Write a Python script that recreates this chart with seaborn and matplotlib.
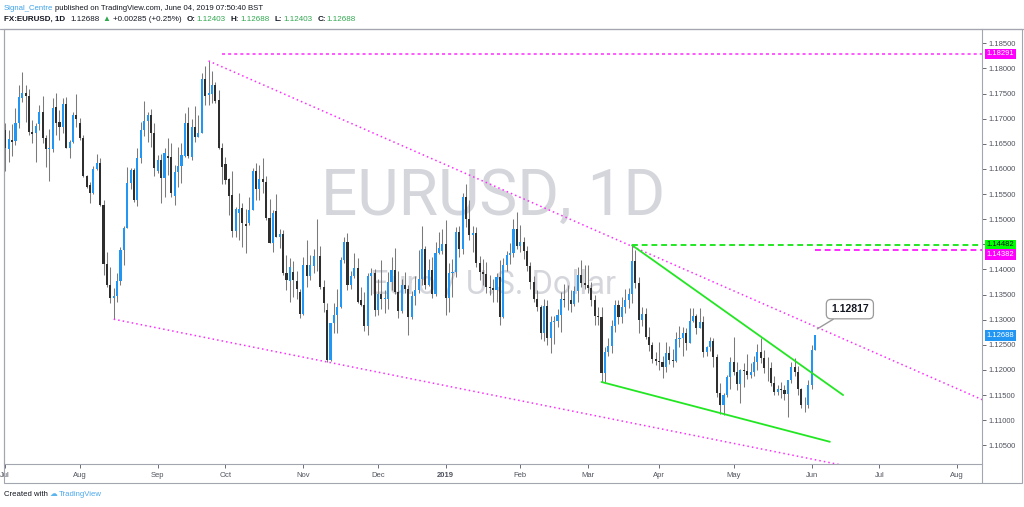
import numpy as np
import pandas as pd
import matplotlib
matplotlib.use('Agg')
import matplotlib.pyplot as plt
import seaborn as sns
from matplotlib.lines import Line2D
from matplotlib.patches import Rectangle

# --- DATA: FX:EURUSD daily candles, 2 Jul 2018 .. 4 Jun 2019 ---
opens = [
    1.1677, 1.1639, 1.1657, 1.1655, 1.1691, 1.1742, 1.1752, 1.1746, 1.1674, 1.1671,
    1.1689, 1.1713, 1.1662, 1.1639, 1.1640, 1.1724, 1.1694, 1.1684, 1.1729, 1.1642,
    1.1653, 1.1707, 1.1692, 1.1661, 1.1585, 1.1569, 1.1553, 1.1600, 1.1611, 1.1528,
    1.1410, 1.1370, 1.1344, 1.1348, 1.1376, 1.1439, 1.1483, 1.1573, 1.1598, 1.1538,
    1.1622, 1.1677, 1.1695, 1.1707, 1.1671, 1.1595, 1.1618, 1.1581, 1.1626, 1.1623,
    1.1546, 1.1593, 1.1606, 1.1626, 1.1692, 1.1623, 1.1683, 1.1663, 1.1672, 1.1778,
    1.1748, 1.1749, 1.1768, 1.1737, 1.1641, 1.1610, 1.1579, 1.1548, 1.1477, 1.1513,
    1.1522, 1.1490, 1.1492, 1.1518, 1.1595, 1.1560, 1.1580, 1.1575, 1.1502, 1.1452,
    1.1517, 1.1465, 1.1470, 1.1392, 1.1376, 1.1394, 1.1376, 1.1355, 1.1311, 1.1409,
    1.1387, 1.1407, 1.1426, 1.1427, 1.1366, 1.1320, 1.1220, 1.1293, 1.1310, 1.1326,
    1.1419, 1.1455, 1.1370, 1.1386, 1.1402, 1.1339, 1.1329, 1.1288, 1.1386, 1.1392,
    1.1319, 1.1352, 1.1342, 1.1342, 1.1375, 1.1398, 1.1356, 1.1318, 1.1370, 1.1362,
    1.1305, 1.1347, 1.1359, 1.1380, 1.1441, 1.1370, 1.1398, 1.1352, 1.1432, 1.1437,
    1.1450, 1.1344, 1.1392, 1.1394, 1.1475, 1.1441, 1.1544, 1.1501, 1.1469, 1.1472,
    1.1412, 1.1395, 1.1390, 1.1365, 1.1363, 1.1359, 1.1385, 1.1306, 1.1409, 1.1429,
    1.1432, 1.1480, 1.1446, 1.1455, 1.1437, 1.1407, 1.1375, 1.1341, 1.1325, 1.1274,
    1.1327, 1.1264, 1.1295, 1.1297, 1.1309, 1.1342, 1.1340, 1.1339, 1.1332, 1.1358,
    1.1388, 1.1373, 1.1370, 1.1364, 1.1339, 1.1308, 1.1306, 1.1194, 1.1235, 1.1247,
    1.1287, 1.1329, 1.1306, 1.1326, 1.1339, 1.1352, 1.1416, 1.1373, 1.1300, 1.1312,
    1.1265, 1.1249, 1.1222, 1.1217, 1.1215, 1.1205, 1.1233, 1.1219, 1.1218, 1.1262,
    1.1263, 1.1274, 1.1253, 1.1298, 1.1307, 1.1284, 1.1296, 1.1236, 1.1246, 1.1258,
    1.1226, 1.1154, 1.1130, 1.1150, 1.1185, 1.1216, 1.1195, 1.1172, 1.1200, 1.1198,
    1.1190, 1.1196, 1.1215, 1.1235, 1.1224, 1.1204, 1.1203, 1.1174, 1.1157, 1.1162,
    1.1160, 1.1152, 1.1180, 1.1205, 1.1195, 1.1162, 1.1131, 1.1130, 1.1170, 1.12403,
]
highs = [
    1.1691, 1.1677, 1.1690, 1.1721, 1.1768, 1.1792, 1.1768, 1.1760, 1.1697, 1.1691,
    1.1727, 1.1746, 1.1667, 1.1679, 1.1741, 1.1752, 1.1717, 1.1742, 1.1744, 1.1658,
    1.1713, 1.1749, 1.1701, 1.1667, 1.1588, 1.1575, 1.1605, 1.1629, 1.1621, 1.1538,
    1.1434, 1.1405, 1.1364, 1.1392, 1.1445, 1.1487, 1.1603, 1.1601, 1.1601, 1.1641,
    1.1694, 1.1735, 1.1714, 1.1719, 1.1692, 1.1628, 1.1630, 1.1641, 1.1661, 1.1651,
    1.1608, 1.1644, 1.1651, 1.1711, 1.1723, 1.1699, 1.1725, 1.1707, 1.1790, 1.1804,
    1.1815, 1.1794, 1.1774, 1.1758, 1.1652, 1.1624, 1.1581, 1.1595, 1.1525, 1.1552,
    1.1532, 1.1520, 1.1545, 1.1601, 1.1612, 1.1608, 1.1621, 1.1585, 1.1540, 1.1518,
    1.1551, 1.1480, 1.1479, 1.1429, 1.1422, 1.1416, 1.1396, 1.1362, 1.1425, 1.1459,
    1.1429, 1.1440, 1.1500, 1.1447, 1.1379, 1.1333, 1.1294, 1.1333, 1.1362, 1.1424,
    1.1465, 1.1473, 1.1396, 1.1432, 1.1422, 1.1366, 1.1356, 1.1392, 1.1402, 1.1400,
    1.1380, 1.1419, 1.1360, 1.1395, 1.1424, 1.1442, 1.1396, 1.1381, 1.1394, 1.1369,
    1.1358, 1.1387, 1.1438, 1.1486, 1.1446, 1.1420, 1.1425, 1.1455, 1.1475, 1.1480,
    1.1498, 1.1413, 1.1420, 1.1484, 1.1486, 1.1553, 1.1570, 1.1538, 1.1486, 1.1484,
    1.1427, 1.1420, 1.1414, 1.1389, 1.1381, 1.1393, 1.1418, 1.1422, 1.1437, 1.1452,
    1.1500, 1.1514, 1.1489, 1.1464, 1.1447, 1.1414, 1.1386, 1.1360, 1.1330, 1.1341,
    1.1340, 1.1308, 1.1307, 1.1322, 1.1356, 1.1372, 1.1369, 1.1360, 1.1368, 1.1404,
    1.1419, 1.1408, 1.1408, 1.1375, 1.1350, 1.1325, 1.1325, 1.1245, 1.1264, 1.1300,
    1.1339, 1.1339, 1.1345, 1.1362, 1.1363, 1.14482, 1.1439, 1.1385, 1.1325, 1.1324,
    1.1286, 1.1256, 1.1236, 1.1256, 1.1228, 1.1255, 1.1247, 1.1241, 1.1276, 1.1288,
    1.1285, 1.1283, 1.1324, 1.1324, 1.1312, 1.1323, 1.1308, 1.1248, 1.1266, 1.1264,
    1.1231, 1.1174, 1.1154, 1.1190, 1.1226, 1.1265, 1.1215, 1.1201, 1.1214, 1.1231,
    1.1214, 1.1228, 1.1251, 1.1264, 1.1240, 1.1225, 1.1215, 1.1187, 1.1171, 1.1175,
    1.1171, 1.1180, 1.1215, 1.1224, 1.1208, 1.1165, 1.1146, 1.1180, 1.1250, 1.12688,
]
lows = [
    1.1595, 1.1614, 1.1625, 1.1648, 1.1682, 1.1734, 1.1694, 1.1667, 1.1651, 1.1614,
    1.1677, 1.1651, 1.1603, 1.1576, 1.1634, 1.1667, 1.1658, 1.1671, 1.1642, 1.1622,
    1.1651, 1.1684, 1.1658, 1.1583, 1.1563, 1.1532, 1.1551, 1.1598, 1.1527, 1.1389,
    1.1366, 1.1333, 1.1301, 1.1336, 1.1369, 1.1409, 1.1482, 1.1560, 1.1535, 1.1527,
    1.1611, 1.1665, 1.1654, 1.1644, 1.1585, 1.1591, 1.1532, 1.1545, 1.1588, 1.1545,
    1.1528, 1.1565, 1.1573, 1.1624, 1.1621, 1.1618, 1.1654, 1.1663, 1.1671, 1.1727,
    1.1727, 1.1732, 1.1731, 1.1639, 1.1571, 1.1571, 1.1508, 1.1465, 1.1465, 1.1459,
    1.1445, 1.1432, 1.1488, 1.1518, 1.1538, 1.1538, 1.1553, 1.1498, 1.1452, 1.1435,
    1.1465, 1.1442, 1.1389, 1.1359, 1.1336, 1.1346, 1.1341, 1.1303, 1.1309, 1.1366,
    1.1379, 1.1392, 1.1396, 1.1362, 1.1316, 1.1216, 1.1217, 1.1273, 1.1273, 1.1323,
    1.1412, 1.1360, 1.1362, 1.1382, 1.1333, 1.1327, 1.1278, 1.1270, 1.1349, 1.1307,
    1.1310, 1.1321, 1.1314, 1.1321, 1.1360, 1.1352, 1.1304, 1.1313, 1.1354, 1.1269,
    1.1302, 1.1330, 1.1354, 1.1370, 1.1362, 1.1367, 1.1343, 1.1347, 1.1430, 1.1430,
    1.1309, 1.1315, 1.1345, 1.1385, 1.1425, 1.1431, 1.1484, 1.1458, 1.1435, 1.1405,
    1.1378, 1.1370, 1.1353, 1.1349, 1.1336, 1.1336, 1.1289, 1.1304, 1.1397, 1.1410,
    1.1424, 1.1440, 1.1434, 1.1421, 1.1397, 1.1361, 1.1335, 1.1318, 1.1262, 1.1257,
    1.1249, 1.1234, 1.1251, 1.1285, 1.1276, 1.1325, 1.1319, 1.1316, 1.1328, 1.1336,
    1.1365, 1.1362, 1.1353, 1.1327, 1.1290, 1.1289, 1.1176, 1.1176, 1.1227, 1.1234,
    1.1276, 1.1291, 1.1293, 1.1314, 1.1324, 1.1334, 1.1363, 1.1274, 1.1287, 1.1262,
    1.1238, 1.1213, 1.1210, 1.1200, 1.1184, 1.1196, 1.1211, 1.1206, 1.1215, 1.1246,
    1.1228, 1.1240, 1.1253, 1.1295, 1.1271, 1.1283, 1.1226, 1.1228, 1.1238, 1.1205,
    1.1147, 1.1112, 1.1111, 1.1146, 1.1162, 1.1190, 1.1161, 1.1135, 1.1166, 1.1181,
    1.1183, 1.1187, 1.1200, 1.1213, 1.1194, 1.1178, 1.1168, 1.1150, 1.1150, 1.1145,
    1.1141, 1.1107, 1.1174, 1.1188, 1.1150, 1.1124, 1.1116, 1.1124, 1.1162, 1.12403,
]
closes = [
    1.1641, 1.1659, 1.1654, 1.1691, 1.1743, 1.1752, 1.1746, 1.1673, 1.1669, 1.1686,
    1.1713, 1.1662, 1.1639, 1.1642, 1.1721, 1.1691, 1.1684, 1.1729, 1.1642, 1.1653,
    1.1707, 1.1699, 1.1661, 1.1585, 1.1565, 1.1553, 1.1600, 1.1611, 1.1528, 1.1410,
    1.1370, 1.1344, 1.1348, 1.1376, 1.1439, 1.1483, 1.1573, 1.1598, 1.1538, 1.1622,
    1.1677, 1.1695, 1.1707, 1.1671, 1.1601, 1.1618, 1.1581, 1.1631, 1.1621, 1.1552,
    1.1593, 1.1606, 1.1627, 1.1691, 1.1626, 1.1683, 1.1663, 1.1672, 1.1778, 1.1745,
    1.1751, 1.1768, 1.1736, 1.1641, 1.1603, 1.1578, 1.1546, 1.1477, 1.1520, 1.1520,
    1.1492, 1.1486, 1.1518, 1.1595, 1.1560, 1.1580, 1.1575, 1.1502, 1.1453, 1.1513,
    1.1465, 1.1471, 1.1392, 1.1379, 1.1404, 1.1379, 1.1362, 1.1311, 1.1409, 1.1387,
    1.1409, 1.1427, 1.1427, 1.1366, 1.1334, 1.1220, 1.1293, 1.1310, 1.1326, 1.1419,
    1.1455, 1.1370, 1.1386, 1.1402, 1.1336, 1.1329, 1.1288, 1.1386, 1.1392, 1.1319,
    1.1352, 1.1342, 1.1342, 1.1375, 1.1398, 1.1356, 1.1318, 1.1370, 1.1362, 1.1305,
    1.1347, 1.1359, 1.1380, 1.1441, 1.1370, 1.1398, 1.1352, 1.1432, 1.1443, 1.1450,
    1.1344, 1.1392, 1.1394, 1.1475, 1.1441, 1.1544, 1.1501, 1.1469, 1.1472, 1.1412,
    1.1395, 1.1390, 1.1365, 1.1363, 1.1359, 1.1385, 1.1306, 1.1409, 1.1429, 1.1432,
    1.1480, 1.1446, 1.1455, 1.1437, 1.1407, 1.1375, 1.1341, 1.1325, 1.1274, 1.1327,
    1.1264, 1.1295, 1.1297, 1.1309, 1.1342, 1.1340, 1.1339, 1.1332, 1.1358, 1.1388,
    1.1373, 1.1370, 1.1364, 1.1339, 1.1308, 1.1306, 1.1194, 1.1235, 1.1247, 1.1287,
    1.1329, 1.1306, 1.1326, 1.1339, 1.1352, 1.1416, 1.1373, 1.1300, 1.1312, 1.1265,
    1.1249, 1.1222, 1.1217, 1.1215, 1.1205, 1.1233, 1.1219, 1.1218, 1.1262, 1.1263,
    1.1274, 1.1253, 1.1298, 1.1307, 1.1284, 1.1296, 1.1236, 1.1246, 1.1258, 1.1226,
    1.1154, 1.1130, 1.1150, 1.1185, 1.1216, 1.1195, 1.1172, 1.1200, 1.1198, 1.1190,
    1.1196, 1.1215, 1.1235, 1.1224, 1.1204, 1.1203, 1.1174, 1.1157, 1.1162, 1.1160,
    1.1152, 1.1180, 1.1205, 1.1195, 1.1162, 1.1131, 1.1130, 1.1170, 1.1240, 1.12688,
]

HOLIDAYS = ['2018-12-25', '2019-01-01']
month_labels = ['Jul', 'Aug', 'Sep', 'Oct', 'Nov', 'Dec', '2019',
                'Feb', 'Mar', 'Apr', 'May', 'Jun', 'Jul', 'Aug']
price_ticks = [1.105, 1.110, 1.115, 1.120, 1.125, 1.130, 1.135, 1.140, 1.145,
               1.150, 1.155, 1.160, 1.165, 1.170, 1.175, 1.180, 1.185]

# drawings (bar index, price)
upper_channel = [(60, 1.1815), (290, 1.1136)]
lower_channel = [(32, 1.1301), (260, 1.0993)]
wedge_top = [(185, 1.14482), (247.3, 1.1150)]
wedge_bottom = [(176, 1.1176), (243.4, 1.1057)]
level_top = 1.18291       # from bar 64
level_green = 1.14482     # from bar 185
level_magenta = 1.14382   # from bar 239
last_price = 1.12688
callout_price = 1.12817

# --- STYLE ---
W, H = 1024, 507
UP = '#2196f3'
DOWN = '#2e2e2e'
WICK = '#7a7a7a'
FRAME = '#a3a6af'
TXT = '#131722'
GREEN_TXT = '#2fa84f'
MAGENTA = '#ff2bff'
LIME = '#22e622'
WATER = '#d4d6dc'


def fx(px):
    return px / W


def fy(py):
    return 1 - py / H


def put_segments(fig, x_px, y_px, segments, size):
    renderer = fig.canvas.get_renderer()
    x = x_px
    for txt, color, weight, gap in segments:
        t = fig.text(fx(x), fy(y_px), txt, color=color, fontweight=weight,
                     fontsize=size, va='center', ha='left')
        x += t.get_window_extent(renderer).width + gap


def draw_chart():
    sns.set_theme(style='white')
    plt.rcParams['font.family'] = ['Liberation Sans', 'DejaVu Sans']

    o = np.array(opens)
    h = np.array(highs)
    l = np.array(lows)
    c = np.array(closes)
    n = len(c)
    x = np.arange(n)

    # trading-day timeline (data + future space on the right)
    days = pd.bdate_range('2018-07-02', '2019-08-30')
    days = days[~days.isin(pd.to_datetime(HOLIDAYS))]
    pos = pd.Series(np.arange(len(days)), index=days)
    month_pos = pos.groupby([pos.index.year, pos.index.month]).first().values

    fig = plt.figure(figsize=(10.24, 5.07), dpi=100)
    ax = fig.add_axes([fx(4), fy(463.5), fx(982) - fx(4), fy(29) - fy(463.5)])
    ax.set_xlim(-0.38, 288.3)
    ax.set_ylim(1.10138, 1.18785)

    # watermark
    ax.text(0.500, 0.615, 'EURUSD, 1D', transform=ax.transAxes, ha='center', va='center',
            fontsize=46, color=WATER, family='Roboto', zorder=0)
    ax.text(0.500, 0.41, 'Euro / U.S. Dollar', transform=ax.transAxes, ha='center',
            va='center', fontsize=23.5, color=WATER, family='Roboto', zorder=0)

    # candles
    up = c >= o
    bottom = np.minimum(o, c)
    height = np.maximum(np.abs(c - o), 0.00008)
    ax.vlines(x, l, h, color=WICK, lw=0.75, zorder=2)
    ax.bar(x[up], height[up], bottom=bottom[up], width=0.62, color=UP, lw=0, zorder=3)
    ax.bar(x[~up], height[~up], bottom=bottom[~up], width=0.62, color=DOWN, lw=0, zorder=3)

    # channel and wedge lines
    for pts in (upper_channel, lower_channel):
        ax.plot(*zip(*pts), color=MAGENTA, lw=1.1, ls=(0, (1, 2)), zorder=4)
    for pts in (wedge_top, wedge_bottom):
        ax.plot(*zip(*pts), color=LIME, lw=1.3, zorder=4)
    right = 300
    ax.plot([64, right], [level_top, level_top], color=MAGENTA, lw=1.1, ls=(0, (2, 2)), zorder=4)
    ax.plot([185, right], [level_green, level_green], color=LIME, lw=1.4, ls=(0, (3, 2)), zorder=4)
    ax.plot([239, right], [level_magenta, level_magenta], color=MAGENTA, lw=1.4,
            ls=(0, (3, 2)), zorder=4)

    # callout
    ax.annotate(f'{callout_price:.5f}', xy=(239.7, callout_price), xytext=(249.3, 1.1321),
                ha='center', va='center', fontsize=7.5, fontweight='bold', color=TXT,
                bbox=dict(boxstyle='round,pad=0.45', fc='white', ec='#9a9a9a', lw=0.9),
                arrowprops=dict(arrowstyle='-', color='#9a9a9a', lw=1.0,
                                shrinkA=0, shrinkB=0), zorder=6)

    # axes styling
    for side in ('left', 'right', 'bottom'):
        ax.spines[side].set_color(FRAME)
        ax.spines[side].set_linewidth(0.8)
    ax.spines['top'].set_visible(False)
    ax.yaxis.tick_right()
    ax.set_yticks(price_ticks)
    ax.set_yticklabels([f'{v:.5f}' for v in price_ticks])
    ax.set_xticks(month_pos)
    ax.set_xticklabels(month_labels)
    ax.tick_params(axis='y', right=True, left=False, labelsize=5.5, colors='#50535e',
                   length=3, width=0.6, pad=2)
    ax.tick_params(axis='x', bottom=True, labelsize=5.5, colors='#50535e',
                   length=3, width=0.6, pad=3)
    for t in ax.get_yticklabels() + ax.get_xticklabels():
        t.set_color('#50535e')
    ax.get_xticklabels()[6].set_fontweight('bold')
    ax.grid(False)

    # coloured price-scale labels (the 1.14382 box sits just under the green one)
    for val, fc, tc, dy in ((level_top, '#ff00ff', 'white', 0),
                            (level_green, '#00ff00', TXT, 0.3),
                            (level_magenta, '#ff00ff', 'white', -3.1),
                            (last_price, UP, 'white', 0)):
        ax.annotate(f'{val:.5f}', xy=(1.0, val), xycoords=('axes fraction', 'data'),
                    xytext=(3.5, dy), textcoords='offset points', ha='left', va='center',
                    fontsize=5.5, color=tc, annotation_clip=False, zorder=7,
                    bbox=dict(boxstyle='square,pad=0.22', fc=fc, ec='none'))

    # outer frame
    fig.add_artist(Rectangle((fx(4), fy(482.5)), fx(1022) - fx(4), fy(29) - fy(482.5),
                             fill=False, ec=FRAME, lw=0.8, transform=fig.transFigure))
    fig.add_artist(Line2D([0, 1], [fy(28.5), fy(28.5)], color=FRAME, lw=0.9,
                          transform=fig.transFigure))
    fig.add_artist(Line2D([fx(982), fx(982)], [fy(482.5), fy(463.5)], color=FRAME, lw=0.8,
                          transform=fig.transFigure))

    # header
    put_segments(fig, 4, 8, [
        ('Signal_Centre', '#3ea2e8', 'normal', 2),
        ('published on TradingView.com, June 04, 2019 07:50:40 BST', TXT, 'normal', 0),
    ], 5.6)
    put_segments(fig, 4, 19.5, [
        ('FX:EURUSD, 1D', TXT, 'bold', 5),
        ('1.12688', TXT, 'normal', 3),
        ('\u25b2', GREEN_TXT, 'normal', 3),
        ('+0.00285 (+0.25%)', TXT, 'normal', 5),
        ('O:', TXT, 'bold', 1), ('1.12403', GREEN_TXT, 'normal', 5),
        ('H:', TXT, 'bold', 1), ('1.12688', GREEN_TXT, 'normal', 5),
        ('L:', TXT, 'bold', 1), ('1.12403', GREEN_TXT, 'normal', 5),
        ('C:', TXT, 'bold', 1), ('1.12688', GREEN_TXT, 'normal', 0),
    ], 5.8)

    # footer
    put_segments(fig, 4, 495, [
        ('Created with', TXT, 'normal', 2),
        ('\u2601', '#5ab4ee', 'normal', 1),
        ('TradingView', '#4aa8ea', 'normal', 0),
    ], 5.6)

    fig.savefig('out.png', dpi=100)
    plt.close(fig)


if __name__ == '__main__':
    assert len(opens) == len(highs) == len(lows) == len(closes) == 240
    draw_chart()
